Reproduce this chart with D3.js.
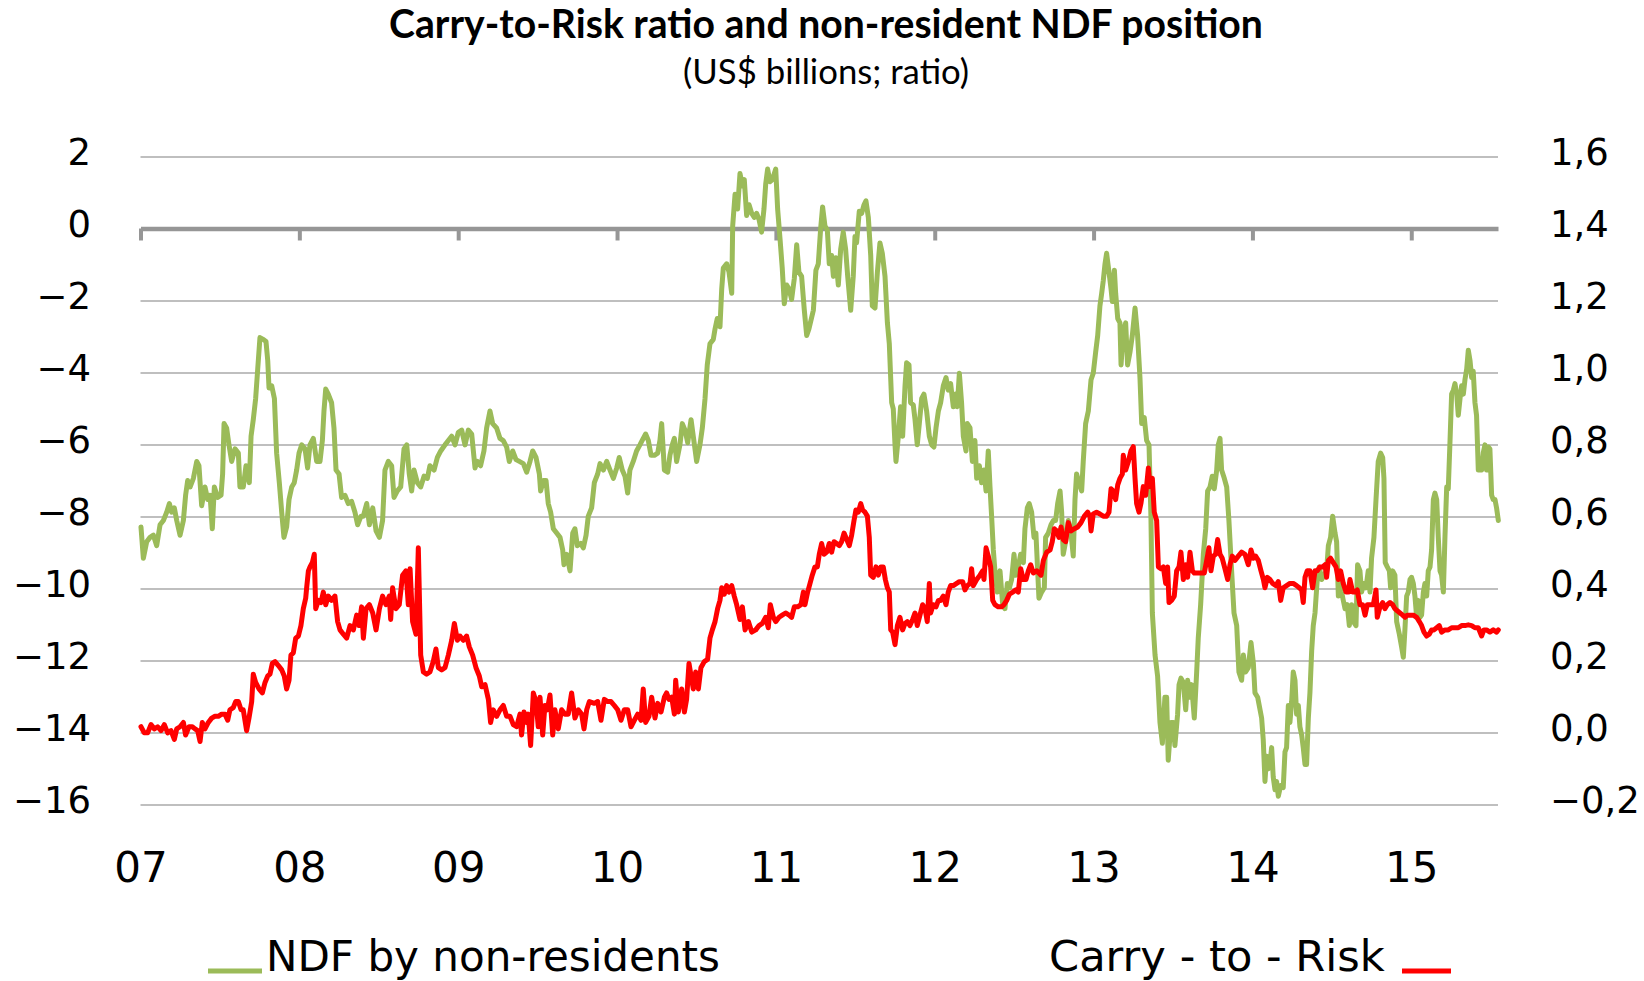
<!DOCTYPE html>
<html>
<head>
<meta charset="utf-8">
<script src="https://cdn.jsdelivr.net/npm/d3@7"></script>
<style>
  html, body { margin: 0; padding: 0; background: #ffffff; }
  svg { display: block; }
</style>
</head>
<body>
<svg id="chart" width="1644" height="981"></svg>
<script>
// ---------------- DATA ----------------
const titleText = "Carry-to-Risk ratio and non-resident NDF position";
const subtitleText = "(US$ billions; ratio)";
const seriesNames = ["NDF by non-residents", "Carry - to - Risk"];
const yearTicks = [2007, 2008, 2009, 2010, 2011, 2012, 2013, 2014, 2015];
const yearLabels = ["07", "08", "09", "10", "11", "12", "13", "14", "15"];
const leftTicks = [2, 0, -2, -4, -6, -8, -10, -12, -14, -16];
const rightTicks = [1.6, 1.4, 1.2, 1.0, 0.8, 0.6, 0.4, 0.2, 0.0, -0.2];

// NDF position by non-residents (US$ bn), [decimal year, value]
const ndfSeries = [
[2007.003,-8.29],[2007.018,-9.16],[2007.039,-8.70],[2007.060,-8.58],[2007.081,-8.52],[2007.102,-8.81],[2007.123,-8.23],[2007.144,-8.11],[2007.165,-7.88],[2007.182,-7.64],
[2007.196,-7.88],[2007.213,-7.76],[2007.228,-8.11],[2007.249,-8.52],[2007.270,-8.11],[2007.284,-7.41],[2007.297,-7.00],[2007.312,-7.18],[2007.333,-6.94],[2007.354,-6.47],
[2007.368,-6.59],[2007.385,-7.70],[2007.406,-7.18],[2007.423,-7.53],[2007.438,-7.41],[2007.452,-8.34],[2007.465,-7.18],[2007.486,-7.47],[2007.507,-7.41],[2007.517,-6.82],
[2007.526,-5.42],[2007.542,-5.54],[2007.557,-6.01],[2007.574,-6.47],[2007.595,-6.12],[2007.616,-6.24],[2007.626,-7.18],[2007.647,-7.18],[2007.664,-6.59],[2007.685,-7.06],
[2007.696,-5.77],[2007.710,-5.31],[2007.725,-4.72],[2007.738,-3.90],[2007.752,-3.03],[2007.773,-3.08],[2007.790,-3.14],[2007.801,-3.67],[2007.809,-4.43],[2007.826,-4.37],
[2007.843,-4.72],[2007.857,-6.24],[2007.874,-7.06],[2007.889,-7.88],[2007.903,-8.58],[2007.920,-8.29],[2007.935,-7.53],[2007.952,-7.18],[2007.968,-7.06],[2007.983,-6.71],
[2007.998,-6.24],[2008.015,-6.01],[2008.036,-6.12],[2008.052,-6.65],[2008.067,-6.01],[2008.088,-5.83],[2008.109,-6.47],[2008.130,-6.47],[2008.145,-5.89],[2008.155,-5.07],
[2008.166,-4.46],[2008.182,-4.60],[2008.203,-4.84],[2008.218,-5.54],[2008.231,-6.71],[2008.250,-6.82],[2008.266,-7.47],[2008.287,-7.41],[2008.308,-7.64],[2008.329,-7.58],
[2008.350,-7.88],[2008.367,-8.23],[2008.388,-7.99],
[2008.403,-7.99],[2008.424,-7.64],[2008.441,-8.23],[2008.462,-7.76],[2008.483,-8.40],[2008.504,-8.58],[2008.524,-8.11],[2008.539,-6.71],[2008.560,-6.47],[2008.581,-6.59],
[2008.596,-7.47],[2008.617,-7.29],[2008.638,-7.18],[2008.659,-6.12],[2008.676,-6.01],[2008.692,-6.82],[2008.707,-7.29],[2008.722,-6.71],[2008.743,-7.06],[2008.764,-7.18],
[2008.785,-6.88],[2008.806,-6.94],[2008.822,-6.59],[2008.848,-6.71],[2008.869,-6.36],[2008.890,-6.18],[2008.917,-6.01],[2008.938,-5.89],[2008.959,-5.77],[2008.980,-6.01],
[2009.001,-5.66],[2009.022,-5.60],[2009.043,-6.01],[2009.064,-5.60],[2009.085,-5.71],[2009.106,-6.65],[2009.120,-6.47],[2009.141,-6.59],[2009.162,-6.18],[2009.179,-5.54],
[2009.200,-5.07],[2009.217,-5.42],[2009.242,-5.54],[2009.263,-5.83],[2009.284,-5.89],[2009.305,-6.07],[2009.322,-6.47],[2009.343,-6.18],[2009.364,-6.42],[2009.385,-6.47],
[2009.410,-6.53],[2009.431,-6.77],[2009.452,-6.47],[2009.469,-6.18],[2009.490,-6.36],[2009.511,-6.82],[2009.519,-7.29],[2009.536,-7.00],[2009.553,-7.00],[2009.567,-7.64],
[2009.582,-7.88],[2009.599,-8.34],[2009.620,-8.46],[2009.641,-8.58],[2009.658,-8.93],[2009.666,-9.34],[2009.683,-9.05],[2009.704,-9.51],[2009.721,-8.46],[2009.735,-8.34],
[2009.750,-8.81],[2009.771,-8.75],[2009.788,-8.87],[2009.805,-8.52],[2009.819,-7.99],
[2009.840,-7.76],[2009.857,-7.06],[2009.878,-6.82],[2009.893,-6.53],[2009.914,-6.71],[2009.935,-6.47],[2009.956,-6.71],[2009.977,-6.94],[2009.998,-6.65],[2010.014,-6.36],
[2010.033,-6.71],[2010.050,-6.88],[2010.067,-7.35],[2010.081,-6.71],[2010.102,-6.47],[2010.123,-6.18],[2010.144,-6.01],[2010.165,-5.83],[2010.180,-5.71],[2010.197,-5.89],
[2010.214,-6.30],[2010.235,-6.30],[2010.256,-6.24],[2010.270,-5.89],[2010.281,-5.42],[2010.298,-6.71],[2010.319,-6.77],[2010.333,-6.30],[2010.348,-6.01],[2010.361,-5.83],
[2010.375,-6.47],[2010.396,-6.01],[2010.411,-5.42],[2010.428,-5.60],[2010.445,-5.95],[2010.466,-5.31],[2010.480,-5.77],[2010.501,-6.47],[2010.522,-6.01],[2010.537,-5.54],
[2010.554,-4.72],[2010.568,-3.79],[2010.585,-3.20],[2010.606,-3.08],[2010.617,-2.79],[2010.631,-2.50],[2010.648,-2.73],[2010.659,-1.68],[2010.669,-1.10],[2010.690,-0.98],
[2010.705,-1.21],[2010.722,-1.80],[2010.728,0.07],[2010.743,0.95],[2010.759,0.54],[2010.774,1.53],[2010.789,1.18],[2010.801,1.36],[2010.816,0.36],[2010.831,0.66],
[2010.848,0.42],[2010.864,0.31],[2010.879,0.42],[2010.894,0.25],[2010.910,-0.10],[2010.925,0.54],[2010.936,1.24],[2010.948,1.65],[2010.963,1.30],[2010.978,1.36],
[2010.999,1.65],[2011.011,0.54],[2011.026,-0.28],[2011.040,-1.10],[2011.053,-2.09],[2011.068,-1.57],[2011.083,-1.68],[2011.099,-1.97],[2011.116,-1.39],[2011.131,-0.45],
[2011.145,-1.21],[2011.162,-1.33],[2011.179,-2.27],[2011.194,-2.97],[2011.208,-2.79],
[2011.236,-2.27],[2011.252,-1.16],[2011.267,-0.98],[2011.282,0.01],[2011.294,0.60],[2011.309,0.07],[2011.324,-0.05],[2011.336,-0.98],[2011.351,-0.75],[2011.362,-1.33],
[2011.378,-0.81],[2011.393,-1.57],[2011.408,-0.57],[2011.424,-0.10],[2011.439,-0.57],[2011.452,-1.33],[2011.471,-2.27],[2011.487,-1.33],[2011.498,-0.22],[2011.508,-0.40],
[2011.525,0.48],[2011.540,0.42],[2011.555,0.66],[2011.567,0.77],[2011.582,0.31],[2011.597,-0.75],[2011.607,-2.15],[2011.624,-2.21],[2011.639,-1.21],[2011.655,-0.40],
[2011.670,-0.69],[2011.687,-1.33],[2011.702,-2.62],[2011.714,-3.20],[2011.729,-4.84],[2011.739,-5.01],[2011.750,-6.01],[2011.756,-6.47],[2011.771,-5.77],[2011.785,-4.95],
[2011.798,-5.77],[2011.813,-4.37],[2011.823,-3.73],[2011.838,-3.79],[2011.848,-4.84],[2011.865,-4.90],[2011.876,-5.31],[2011.890,-6.01],[2011.903,-5.42],[2011.918,-4.72],
[2011.932,-4.60],[2011.949,-5.07],[2011.966,-5.77],[2011.981,-6.01],[2011.995,-6.07],[2012.008,-5.54],[2012.023,-5.07],[2012.037,-4.84],[2012.054,-4.37],[2012.071,-4.14],
[2012.085,-4.49],[2012.100,-4.31],[2012.117,-4.95],[2012.132,-4.60],[2012.142,-4.95],[2012.155,-4.02],[2012.169,-4.84],[2012.180,-5.77],[2012.197,-6.18],[2012.205,-5.42],
[2012.222,-5.54],[2012.237,-6.47],[2012.253,-5.89],[2012.264,-6.94],[2012.281,-6.59],[2012.295,-7.06],[2012.310,-6.71],[2012.323,-7.29],[2012.337,-6.18],[2012.348,-7.18],
[2012.358,-7.99],[2012.369,-8.93],[2012.379,-9.51],[2012.394,-10.10],[2012.411,-9.51],[2012.428,-10.45],[2012.442,-10.56],[2012.457,-9.86],[2012.470,-9.98],[2012.484,-9.75],
[2012.499,-9.05],[2012.511,-9.63],[2012.526,-9.40],[2012.541,-9.05],[2012.558,-9.28],[2012.568,-8.34],[2012.583,-7.76],[2012.595,-7.64],[2012.610,-7.88],[2012.625,-8.58],
[2012.637,-8.46],
[2012.656,-10.27],[2012.673,-10.10],[2012.690,-9.98],[2012.698,-8.58],[2012.715,-8.46],[2012.732,-8.23],[2012.747,-8.11],[2012.761,-8.11],[2012.774,-7.64],[2012.789,-7.29],
[2012.799,-7.88],[2012.809,-9.05],[2012.824,-8.70],[2012.841,-8.11],[2012.858,-8.46],[2012.872,-9.10],[2012.883,-7.53],[2012.893,-6.82],[2012.908,-7.06],[2012.925,-7.29],
[2012.935,-6.47],[2012.950,-5.42],[2012.967,-5.07],[2012.984,-4.20],[2012.998,-4.02],[2013.013,-3.44],[2013.026,-2.97],[2013.040,-2.15],[2013.051,-1.80],[2013.061,-1.45],
[2013.072,-0.98],[2013.082,-0.69],[2013.097,-1.21],[2013.110,-1.68],[2013.118,-2.03],[2013.131,-1.16],[2013.139,-1.80],[2013.152,-2.50],[2013.166,-2.62],[2013.173,-3.79],
[2013.187,-2.85],[2013.202,-2.62],[2013.214,-3.79],[2013.229,-3.44],[2013.244,-2.97],[2013.261,-2.21],[2013.277,-2.97],[2013.292,-4.14],[2013.303,-5.42],[2013.319,-5.25],
[2013.334,-5.89],[2013.349,-6.01],[2013.361,-7.99],[2013.370,-10.68],[2013.387,-11.85],[2013.403,-12.43],[2013.418,-13.72],[2013.433,-14.30],[2013.449,-13.02],[2013.460,-13.02],
[2013.470,-14.77],[2013.487,-13.72],[2013.502,-13.72],[2013.512,-14.36],[2013.529,-13.49],[2013.538,-12.67],[2013.550,-12.49],[2013.565,-12.61],[2013.580,-13.37],[2013.592,-12.55],
[2013.607,-13.02],[2013.617,-12.67],[2013.634,-13.60],[2013.649,-12.32],[2013.659,-11.38],[2013.674,-10.45],[2013.691,-9.05],[2013.706,-8.34],[2013.718,-7.29],[2013.733,-7.18],
[2013.747,-6.88],[2013.760,-7.23],[2013.775,-6.71],[2013.785,-6.01],[2013.796,-5.83],[2013.806,-6.71],[2013.823,-6.94],[2013.838,-7.18],[2013.852,-8.11],[2013.869,-9.51],
[2013.884,-10.68],[2013.901,-11.03],[2013.915,-12.32],[2013.932,-12.55],[2013.943,-11.85],[2013.957,-12.32],[2013.974,-12.20],[2013.991,-11.50],[2014.006,-12.08],[2014.016,-12.90],
[2014.033,-13.02],
[2014.058,-13.60],[2014.068,-14.19],[2014.079,-15.36],[2014.089,-14.66],[2014.100,-15.01],[2014.110,-14.89],[2014.121,-14.42],[2014.131,-15.24],[2014.142,-15.59],[2014.152,-15.36],
[2014.163,-15.77],[2014.178,-15.47],[2014.194,-15.53],[2014.205,-14.54],[2014.215,-14.42],[2014.226,-13.25],[2014.236,-13.72],[2014.247,-13.14],[2014.257,-12.32],[2014.268,-12.55],
[2014.278,-13.49],[2014.289,-13.25],[2014.299,-13.84],[2014.310,-14.07],[2014.320,-14.42],[2014.331,-14.89],[2014.341,-14.89],[2014.352,-13.60],[2014.362,-12.90],[2014.373,-11.73],
[2014.383,-11.03],[2014.394,-10.68],[2014.408,-9.75],[2014.421,-9.40],[2014.436,-9.75],[2014.450,-9.63],[2014.467,-9.51],[2014.478,-8.81],[2014.492,-8.58],[2014.505,-7.99],
[2014.520,-8.46],[2014.530,-8.70],[2014.541,-10.21],[2014.551,-9.75],[2014.562,-10.10],[2014.572,-10.33],[2014.583,-10.56],[2014.597,-10.45],[2014.610,-11.03],[2014.625,-10.45],
[2014.635,-10.92],[2014.652,-11.03],[2014.662,-9.34],[2014.677,-9.51],[2014.687,-10.10],[2014.702,-9.86],[2014.715,-9.98],[2014.729,-9.51],[2014.740,-10.10],[2014.750,-9.16],
[2014.765,-8.58],[2014.778,-7.53],[2014.792,-6.47],[2014.807,-6.24],[2014.820,-6.36],[2014.828,-6.94],[2014.836,-9.28],[2014.849,-9.40],[2014.862,-9.51],[2014.870,-9.98],
[2014.883,-9.51],[2014.897,-9.63],[2014.908,-10.92],[2014.925,-11.27],[2014.939,-11.62],[2014.950,-11.91],[2014.960,-11.15],[2014.971,-10.21],[2014.981,-10.10],[2014.992,-9.75],
[2015.002,-9.69],[2015.013,-9.86],[2015.023,-10.21],[2015.034,-10.80],[2015.044,-10.33],[2015.055,-10.80],[2015.065,-10.74],[2015.076,-10.10],[2015.086,-9.86],[2015.097,-10.21],
[2015.107,-9.51],[2015.118,-9.40],[2015.128,-8.93],[2015.139,-7.53],[2015.149,-7.35],[2015.160,-7.53],[2015.170,-8.58],[2015.181,-9.51],[2015.191,-9.63],[2015.202,-10.10],
[2015.212,-8.58],[2015.223,-7.18],[2015.233,-7.23],[2015.244,-5.89],[2015.254,-4.60],[2015.265,-4.49],[2015.275,-4.31],[2015.286,-4.60],[2015.296,-5.19],[2015.307,-4.72],
[2015.317,-4.37],[2015.328,-4.60],[2015.338,-4.20],[2015.349,-3.90],[2015.359,-3.38],[2015.370,-3.67],[2015.380,-4.14],[2015.390,-3.96],[2015.401,-4.84],[2015.411,-5.19],
[2015.422,-6.71],[2015.432,-6.47],[2015.443,-6.71],[2015.453,-6.24],[2015.464,-6.01],[2015.474,-6.71],[2015.485,-6.07],[2015.495,-6.12],[2015.506,-7.41],[2015.516,-7.53],
[2015.527,-7.53],[2015.537,-7.76],[2015.548,-8.11]
];

// Carry-to-Risk ratio, [decimal year, value]
const ctrSeries = [
[2007.003,0.016],[2007.024,-0.001],[2007.045,-0.001],[2007.066,0.022],[2007.087,0.010],[2007.108,0.016],[2007.129,0.005],[2007.150,0.022],[2007.171,-0.001],[2007.192,0.005],
[2007.213,-0.019],[2007.228,0.010],[2007.249,0.016],[2007.270,0.028],[2007.284,-0.007],[2007.305,0.016],[2007.326,0.016],[2007.343,0.010],[2007.360,0.005],[2007.375,-0.025],
[2007.389,0.028],[2007.406,0.010],[2007.427,0.028],[2007.448,0.040],[2007.469,0.045],[2007.490,0.045],[2007.511,0.051],[2007.532,0.051],[2007.549,0.034],[2007.563,0.063],
[2007.584,0.069],[2007.599,0.086],[2007.616,0.086],[2007.633,0.063],[2007.647,0.063],[2007.668,0.005],[2007.683,0.040],[2007.700,0.086],[2007.710,0.162],[2007.725,0.139],
[2007.746,0.121],[2007.767,0.110],[2007.784,0.139],[2007.801,0.157],[2007.815,0.162],[2007.830,0.192],[2007.847,0.197],[2007.868,0.186],[2007.889,0.174],[2007.905,0.157],
[2007.920,0.121],[2007.935,0.145],[2007.947,0.215],[2007.962,0.221],[2007.977,0.262],[2007.994,0.268],[2008.010,0.297],[2008.025,0.344],[2008.040,0.373],[2008.046,0.402],
[2008.057,0.449],[2008.067,0.460],[2008.082,0.472],[2008.094,0.495],[2008.103,0.344],[2008.120,0.367],[2008.136,0.361],[2008.151,0.390],[2008.166,0.355],[2008.182,0.379],
[2008.203,0.367],[2008.224,0.379],[2008.241,0.308],[2008.256,0.285],[2008.277,0.273],[2008.298,0.262],[2008.319,0.297],[2008.340,0.285],[2008.361,0.326],[2008.376,0.297],
[2008.392,0.349],[2008.403,0.262],
[2008.420,0.344],[2008.441,0.355],[2008.462,0.332],[2008.483,0.285],[2008.504,0.344],[2008.524,0.379],[2008.545,0.355],[2008.566,0.379],[2008.575,0.314],[2008.587,0.402],
[2008.608,0.344],[2008.629,0.355],[2008.650,0.437],[2008.671,0.449],[2008.686,0.355],[2008.697,0.455],[2008.713,0.308],[2008.734,0.273],[2008.749,0.513],[2008.764,0.215],
[2008.781,0.168],[2008.801,0.162],[2008.822,0.168],[2008.843,0.197],[2008.860,0.232],[2008.875,0.180],[2008.896,0.174],[2008.917,0.180],[2008.938,0.215],[2008.959,0.256],
[2008.976,0.303],[2008.995,0.256],[2009.011,0.268],[2009.032,0.256],[2009.053,0.268],[2009.070,0.238],[2009.091,0.215],[2009.112,0.180],[2009.133,0.157],[2009.148,0.127],
[2009.169,0.133],[2009.190,0.092],[2009.204,0.028],[2009.221,0.063],[2009.242,0.045],[2009.263,0.063],[2009.284,0.075],[2009.305,0.045],[2009.326,0.045],[2009.347,0.022],
[2009.368,0.016],[2009.389,0.051],[2009.399,-0.007],[2009.414,0.057],[2009.431,0.028],[2009.441,0.051],[2009.456,-0.036],[2009.473,0.110],[2009.490,0.086],[2009.504,0.016],
[2009.515,0.098],[2009.532,-0.007],[2009.546,0.075],[2009.561,0.063],[2009.578,0.104],[2009.595,-0.007],[2009.609,0.063],[2009.630,0.010],[2009.651,0.063],[2009.672,0.051],
[2009.693,0.051],[2009.714,0.110],[2009.735,0.040],[2009.756,0.063],[2009.777,0.051],[2009.792,0.010],[2009.809,0.063],[2009.826,0.086],
[2009.857,0.081],[2009.878,0.086],[2009.899,0.034],[2009.920,0.092],[2009.941,0.086],[2009.962,0.086],[2009.983,0.075],[2010.004,0.063],[2010.025,0.034],[2010.046,0.063],
[2010.067,0.063],[2010.088,0.016],[2010.109,0.034],[2010.130,0.051],[2010.151,0.034],[2010.165,0.121],[2010.180,0.028],[2010.201,0.045],[2010.218,0.098],[2010.239,0.040],
[2010.256,0.081],[2010.277,0.057],[2010.298,0.098],[2010.312,0.110],[2010.327,0.092],[2010.344,0.098],[2010.361,0.051],[2010.369,0.145],[2010.386,0.057],[2010.407,0.121],
[2010.424,0.057],[2010.438,0.092],[2010.453,0.192],[2010.466,0.157],[2010.480,0.121],[2010.495,0.168],[2010.512,0.121],[2010.528,0.180],[2010.549,0.197],[2010.570,0.203],
[2010.585,0.262],[2010.600,0.285],[2010.617,0.308],[2010.633,0.344],[2010.648,0.367],[2010.659,0.402],[2010.675,0.384],[2010.690,0.408],[2010.705,0.390],[2010.722,0.408],
[2010.738,0.379],[2010.753,0.355],[2010.774,0.314],[2010.789,0.349],[2010.806,0.285],[2010.827,0.308],[2010.848,0.279],[2010.873,0.285],[2010.894,0.297],[2010.915,0.303],
[2010.936,0.320],[2010.952,0.291],[2010.965,0.355],[2010.984,0.320],[2010.999,0.308],[2011.020,0.320],[2011.040,0.326],[2011.061,0.332],[2011.083,0.326],[2011.099,0.320],
[2011.116,0.349],[2011.137,0.349],[2011.158,0.355],[2011.173,0.390],[2011.183,0.355],[2011.200,0.390],[2011.215,0.414],[2011.229,0.437],[2011.246,0.460],
[2011.261,0.460],[2011.273,0.495],[2011.288,0.525],[2011.303,0.495],[2011.320,0.501],[2011.336,0.525],[2011.351,0.501],[2011.366,0.530],[2011.383,0.525],[2011.399,0.519],
[2011.414,0.530],[2011.429,0.554],[2011.446,0.536],[2011.462,0.519],[2011.477,0.548],[2011.492,0.589],[2011.504,0.618],[2011.519,0.612],[2011.534,0.636],[2011.546,0.618],
[2011.561,0.612],[2011.576,0.601],[2011.588,0.542],[2011.597,0.437],[2011.613,0.431],[2011.630,0.460],[2011.645,0.437],[2011.660,0.460],[2011.676,0.460],[2011.689,0.425],
[2011.702,0.402],[2011.714,0.390],[2011.723,0.285],[2011.735,0.279],[2011.750,0.244],[2011.765,0.297],[2011.781,0.320],[2011.798,0.285],[2011.813,0.303],[2011.827,0.308],
[2011.844,0.297],[2011.861,0.314],[2011.876,0.332],[2011.890,0.297],[2011.907,0.326],[2011.924,0.355],[2011.939,0.344],[2011.953,0.308],[2011.966,0.414],[2011.974,0.332],
[2011.991,0.355],[2012.008,0.349],[2012.023,0.367],[2012.037,0.367],[2012.054,0.379],[2012.071,0.355],[2012.085,0.390],[2012.100,0.408],[2012.117,0.408],[2012.138,0.414],
[2012.155,0.419],[2012.176,0.419],[2012.190,0.396],[2012.205,0.408],[2012.222,0.414],[2012.232,0.455],[2012.243,0.408],[2012.264,0.425],[2012.285,0.437],[2012.302,0.449],
[2012.310,0.425],[2012.323,0.513],[2012.337,0.490],[2012.352,0.460],[2012.365,0.367],[2012.379,0.355],[2012.400,0.349],[2012.421,0.349],[2012.436,0.355],[2012.453,0.367],
[2012.470,0.384],[2012.491,0.390],[2012.511,0.396],[2012.526,0.390],[2012.541,0.455],[2012.558,0.425],[2012.575,0.425],[2012.589,0.449],[2012.604,0.466],[2012.621,0.443],
[2012.642,0.449],
[2012.669,0.437],[2012.684,0.478],[2012.705,0.501],[2012.726,0.507],[2012.740,0.530],[2012.753,0.566],[2012.768,0.560],[2012.782,0.542],[2012.795,0.571],[2012.809,0.536],
[2012.824,0.530],[2012.841,0.583],[2012.858,0.560],[2012.879,0.566],[2012.900,0.571],[2012.921,0.583],[2012.942,0.601],[2012.963,0.612],[2012.977,0.601],[2012.984,0.560],
[2012.998,0.607],[2013.019,0.612],[2013.040,0.607],[2013.061,0.601],[2013.082,0.601],[2013.097,0.612],[2013.110,0.677],[2013.124,0.671],[2013.139,0.647],[2013.152,0.688],
[2013.166,0.706],[2013.181,0.718],[2013.187,0.770],[2013.202,0.729],[2013.219,0.753],[2013.235,0.782],[2013.250,0.794],[2013.261,0.706],[2013.271,0.636],[2013.286,0.612],
[2013.298,0.636],[2013.313,0.683],[2013.328,0.659],[2013.345,0.735],[2013.355,0.683],[2013.370,0.706],[2013.382,0.612],[2013.397,0.589],[2013.408,0.460],[2013.424,0.455],
[2013.439,0.460],[2013.454,0.414],[2013.466,0.460],[2013.475,0.361],[2013.491,0.367],[2013.508,0.379],[2013.523,0.449],[2013.538,0.460],[2013.550,0.501],[2013.565,0.425],
[2013.580,0.466],[2013.592,0.431],[2013.607,0.501],[2013.622,0.449],[2013.634,0.443],[2013.655,0.443],[2013.676,0.443],[2013.697,0.443],[2013.712,0.478],[2013.726,0.513],
[2013.739,0.449],[2013.754,0.490],[2013.768,0.495],[2013.781,0.536],[2013.796,0.495],[2013.810,0.484],[2013.827,0.455],[2013.844,0.425],[2013.859,0.466],[2013.873,0.490],
[2013.890,0.478],[2013.911,0.490],[2013.932,0.501],[2013.953,0.495],[2013.974,0.466],[2013.991,0.507],[2014.006,0.484],[2014.020,0.490],[2014.037,0.478],[2014.054,0.449],
[2014.069,0.425],
[2014.079,0.402],[2014.094,0.431],[2014.110,0.425],[2014.127,0.414],[2014.148,0.408],[2014.163,0.419],[2014.178,0.367],[2014.194,0.402],[2014.215,0.408],[2014.236,0.414],
[2014.257,0.414],[2014.278,0.408],[2014.295,0.402],[2014.310,0.396],[2014.320,0.361],[2014.331,0.431],[2014.345,0.449],[2014.362,0.449],[2014.379,0.402],[2014.394,0.449],
[2014.408,0.449],[2014.425,0.460],[2014.442,0.460],[2014.457,0.466],[2014.467,0.431],[2014.478,0.478],[2014.492,0.484],[2014.509,0.472],[2014.526,0.460],[2014.541,0.425],
[2014.555,0.449],[2014.572,0.414],[2014.589,0.390],[2014.604,0.390],[2014.614,0.425],[2014.631,0.390],[2014.646,0.390],[2014.660,0.396],[2014.677,0.355],[2014.694,0.355],
[2014.709,0.326],[2014.723,0.355],[2014.740,0.355],[2014.761,0.355],[2014.778,0.396],[2014.786,0.320],[2014.803,0.349],[2014.820,0.361],[2014.834,0.344],[2014.849,0.355],
[2014.866,0.361],[2014.883,0.355],[2014.897,0.344],[2014.912,0.338],[2014.929,0.332],[2014.946,0.326],[2014.960,0.320],[2014.975,0.326],[2014.992,0.326],[2015.013,0.326],
[2015.034,0.320],[2015.051,0.308],[2015.065,0.297],[2015.080,0.279],[2015.097,0.268],[2015.114,0.273],[2015.128,0.285],[2015.143,0.285],[2015.160,0.291],[2015.176,0.297],
[2015.191,0.279],[2015.212,0.285],[2015.233,0.285],[2015.254,0.291],[2015.275,0.291],[2015.296,0.291],[2015.317,0.297],[2015.338,0.297],[2015.359,0.299],[2015.380,0.297],
[2015.401,0.291],[2015.422,0.291],[2015.443,0.268],[2015.457,0.285],[2015.474,0.285],[2015.495,0.279],[2015.516,0.285],[2015.537,0.279],[2015.548,0.285]
];

// ---------------- LAYOUT ----------------
const svg = d3.select("#chart");
svg.append("rect").attr("width", 1644).attr("height", 981).attr("fill", "#ffffff");

const plot = { left: 140.5, right: 1498, top: 156.5, bottom: 804.5 };
const tickFont = "'DejaVu Sans', Verdana, sans-serif";
const titleFont = "Lato, 'Open Sans', sans-serif";

const x = d3.scaleLinear().domain([2007, 2015.546]).range([plot.left, plot.right]);
const yL = d3.scaleLinear().domain([-16, 2]).range([plot.bottom, plot.top]);
const yR = d3.scaleLinear().domain([-0.2, 1.6]).range([plot.bottom, plot.top]);

// gridlines
const grid = svg.append("g").attr("transform", `translate(${plot.left},0)`)
  .call(d3.axisLeft(yL).tickValues(leftTicks.filter(t => t !== 0))
        .tickSize(-(plot.right - plot.left)).tickFormat(""));
grid.select(".domain").remove();
grid.selectAll(".tick line").attr("stroke", "#bfbfbf").attr("stroke-width", 2);

// zero axis with year tick marks
const zeroAxis = svg.append("g").attr("transform", `translate(0,${yL(0)})`)
  .call(d3.axisBottom(x).tickValues(yearTicks).tickSizeInner(12).tickSizeOuter(0).tickFormat(""));
zeroAxis.select(".domain").attr("stroke", "#969696").attr("stroke-width", 4.5);
zeroAxis.selectAll(".tick line").attr("stroke", "#969696").attr("stroke-width", 4);

// left labels
const fmtLeft = d3.format("d");
const leftAxis = svg.append("g").attr("transform", `translate(91,-4)`)
  .call(d3.axisLeft(yL).tickValues(leftTicks).tickSize(0).tickPadding(0).tickFormat(fmtLeft));
leftAxis.select(".domain").remove();
leftAxis.selectAll("text").attr("font-family", tickFont).attr("font-size", 37).attr("fill", "#000");

// right labels (comma decimal)
const locale = d3.formatLocale({ decimal: ",", thousands: ".", grouping: [3], currency: ["", ""], minus: "\u2212" });
const fmtRight = locale.format(".1f");
const rightAxis = svg.append("g").attr("transform", `translate(1550,-4)`)
  .call(d3.axisRight(yR).tickValues(rightTicks).tickSize(0).tickPadding(0).tickFormat(fmtRight));
rightAxis.select(".domain").remove();
rightAxis.selectAll("text").attr("font-family", tickFont).attr("font-size", 37).attr("fill", "#000");

// x labels
const xLab = svg.append("g").attr("transform", `translate(0,852.5)`)
  .call(d3.axisBottom(x).tickValues(yearTicks).tickSize(0).tickPadding(0)
        .tickFormat((d, i) => yearLabels[i]));
xLab.select(".domain").remove();
xLab.selectAll("text").attr("font-family", tickFont).attr("font-size", 42).attr("fill", "#000");

// lines
const lineL = d3.line().x(d => x(d[0])).y(d => yL(d[1]));
const lineR = d3.line().x(d => x(d[0])).y(d => yR(d[1]));
svg.append("path").datum(ndfSeries).attr("d", lineL)
  .attr("fill", "none").attr("stroke", "#9bbb59").attr("stroke-width", 5)
  .attr("stroke-linejoin", "round").attr("stroke-linecap", "round");
svg.append("path").datum(ctrSeries).attr("d", lineR)
  .attr("fill", "none").attr("stroke", "#ff0000").attr("stroke-width", 5)
  .attr("stroke-linejoin", "round").attr("stroke-linecap", "round");

// title & subtitle (fit to measured widths)
function fitWidth(sel, target) {
  const w = sel.node().getComputedTextLength();
  const fs = parseFloat(sel.attr("font-size"));
  if (w > 0) sel.attr("font-size", fs * target / w);
}
const title = svg.append("text").attr("x", 826).attr("y", 38).attr("text-anchor", "middle")
  .attr("font-family", titleFont).attr("font-weight", "bold").attr("font-size", 34)
  .attr("fill", "#000").text(titleText);
fitWidth(title, 874);
const subtitle = svg.append("text").attr("x", 826).attr("y", 84).attr("text-anchor", "middle")
  .attr("font-family", titleFont).attr("font-size", 28)
  .attr("fill", "#000").text(subtitleText);
fitWidth(subtitle, 286);

// legend (text widths fitted to the reference)
const legend = svg.append("g");
legend.append("line").attr("x1", 208).attr("x2", 262).attr("y1", 971).attr("y2", 971)
  .attr("stroke", "#9bbb59").attr("stroke-width", 5);
const legText1 = legend.append("text").attr("x", 266).attr("y", 971).attr("font-family", tickFont)
  .attr("font-size", 42).attr("fill", "#000").text(seriesNames[0]);
fitWidth(legText1, 454);
const legText2 = legend.append("text").attr("x", 1049).attr("y", 971).attr("font-family", tickFont)
  .attr("font-size", 42).attr("fill", "#000").text(seriesNames[1]);
fitWidth(legText2, 336);
legend.append("line").attr("x1", 1402).attr("x2", 1451).attr("y1", 971).attr("y2", 971)
  .attr("stroke", "#ff0000").attr("stroke-width", 5);
</script>
</body>
</html>
